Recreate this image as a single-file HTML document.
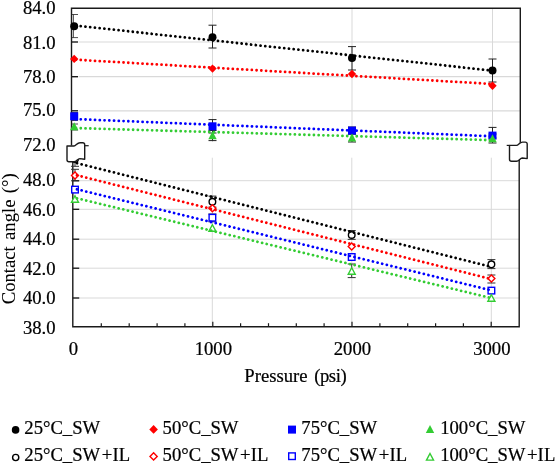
<!DOCTYPE html>
<html><head><meta charset="utf-8"><style>
html,body{margin:0;padding:0;background:#fff;}
body{width:555px;height:466px;overflow:hidden;}
svg{display:block;filter:blur(0.35px);}
text{font-family:"Liberation Serif", serif;font-size:18.67px;fill:#000;stroke:#000;stroke-width:0.22px;}
</style></head><body>
<svg width="555" height="466" viewBox="0 0 555 466">
<rect width="555" height="466" fill="#fff"/>
<line x1="78.5" y1="42.0" x2="520.3" y2="42.0" stroke="#d9d9d9" stroke-width="1.2"/>
<line x1="78.5" y1="76.7" x2="520.3" y2="76.7" stroke="#d9d9d9" stroke-width="1.2"/>
<line x1="78.5" y1="110.8" x2="520.3" y2="110.8" stroke="#d9d9d9" stroke-width="1.2"/>
<line x1="212.5" y1="8.3" x2="212.5" y2="142" stroke="#d9d9d9" stroke-width="1"/>
<line x1="352.0" y1="8.3" x2="352.0" y2="142" stroke="#d9d9d9" stroke-width="1"/>
<line x1="492.5" y1="8.3" x2="492.5" y2="142" stroke="#d9d9d9" stroke-width="1"/>
<line x1="79.8" y1="180.7" x2="519.2" y2="180.7" stroke="#d9d9d9" stroke-width="1"/>
<line x1="79.8" y1="209.3" x2="519.2" y2="209.3" stroke="#d9d9d9" stroke-width="1"/>
<line x1="79.8" y1="239.2" x2="519.2" y2="239.2" stroke="#d9d9d9" stroke-width="1"/>
<line x1="79.8" y1="268.2" x2="519.2" y2="268.2" stroke="#d9d9d9" stroke-width="1"/>
<line x1="79.8" y1="298.0" x2="519.2" y2="298.0" stroke="#d9d9d9" stroke-width="1"/>
<line x1="212.3" y1="157.7" x2="212.3" y2="326.7" stroke="#d9d9d9" stroke-width="1"/>
<line x1="351.8" y1="157.7" x2="351.8" y2="326.7" stroke="#d9d9d9" stroke-width="1"/>
<line x1="491.3" y1="157.7" x2="491.3" y2="326.7" stroke="#d9d9d9" stroke-width="1"/>
<path d="M71.5,145.5 V8.3 H520.3 V143" fill="none" stroke="#1a1a1a" stroke-width="1.4"/>
<path d="M72.8,157.7 V326.7 H519.2 V157.7" fill="none" stroke="#1a1a1a" stroke-width="1.4"/>
<line x1="71.5" y1="42.0" x2="78.0" y2="42.0" stroke="#1a1a1a" stroke-width="1.4"/>
<line x1="71.5" y1="76.7" x2="78.0" y2="76.7" stroke="#1a1a1a" stroke-width="1.4"/>
<line x1="71.5" y1="110.8" x2="78.0" y2="110.8" stroke="#1a1a1a" stroke-width="1.4"/>
<line x1="72.8" y1="180.7" x2="79.3" y2="180.7" stroke="#1a1a1a" stroke-width="1.4"/>
<line x1="72.8" y1="209.3" x2="79.3" y2="209.3" stroke="#1a1a1a" stroke-width="1.4"/>
<line x1="72.8" y1="239.2" x2="79.3" y2="239.2" stroke="#1a1a1a" stroke-width="1.4"/>
<line x1="72.8" y1="268.2" x2="79.3" y2="268.2" stroke="#1a1a1a" stroke-width="1.4"/>
<line x1="72.8" y1="298.0" x2="79.3" y2="298.0" stroke="#1a1a1a" stroke-width="1.4"/>
<line x1="101.3" y1="326.7" x2="101.3" y2="323.2" stroke="#1a1a1a" stroke-width="1.2"/>
<line x1="129.2" y1="326.7" x2="129.2" y2="323.2" stroke="#1a1a1a" stroke-width="1.2"/>
<line x1="157.1" y1="326.7" x2="157.1" y2="323.2" stroke="#1a1a1a" stroke-width="1.2"/>
<line x1="184.9" y1="326.7" x2="184.9" y2="323.2" stroke="#1a1a1a" stroke-width="1.2"/>
<line x1="212.8" y1="326.7" x2="212.8" y2="321.7" stroke="#1a1a1a" stroke-width="1.2"/>
<line x1="240.6" y1="326.7" x2="240.6" y2="323.2" stroke="#1a1a1a" stroke-width="1.2"/>
<line x1="268.5" y1="326.7" x2="268.5" y2="323.2" stroke="#1a1a1a" stroke-width="1.2"/>
<line x1="296.3" y1="326.7" x2="296.3" y2="323.2" stroke="#1a1a1a" stroke-width="1.2"/>
<line x1="324.1" y1="326.7" x2="324.1" y2="323.2" stroke="#1a1a1a" stroke-width="1.2"/>
<line x1="352.0" y1="326.7" x2="352.0" y2="321.7" stroke="#1a1a1a" stroke-width="1.2"/>
<line x1="379.9" y1="326.7" x2="379.9" y2="323.2" stroke="#1a1a1a" stroke-width="1.2"/>
<line x1="407.7" y1="326.7" x2="407.7" y2="323.2" stroke="#1a1a1a" stroke-width="1.2"/>
<line x1="435.6" y1="326.7" x2="435.6" y2="323.2" stroke="#1a1a1a" stroke-width="1.2"/>
<line x1="463.4" y1="326.7" x2="463.4" y2="323.2" stroke="#1a1a1a" stroke-width="1.2"/>
<line x1="491.2" y1="326.7" x2="491.2" y2="321.7" stroke="#1a1a1a" stroke-width="1.2"/>
<path d="M73.4,14.5 V37.6 M71.5,14.5 H78 M71.5,37.6 H78" stroke="#222" stroke-width="1.0" fill="none" opacity="0.8"/>
<path d="M212.5,25.2 V48.0 M208.5,25.2 H216.5 M208.5,48.0 H216.5" stroke="#222" stroke-width="1.0" fill="none"/>
<path d="M352.0,46.6 V70.0 M348.0,46.6 H356.0 M348.0,70.0 H356.0" stroke="#222" stroke-width="1.0" fill="none"/>
<path d="M492.5,59.0 V82.0 M488.5,59.0 H496.5 M488.5,82.0 H496.5" stroke="#222" stroke-width="1.0" fill="none"/>
<path d="M73.4,112.5 V120.5 M71.5,112.5 H78 M71.5,120.5 H78" stroke="#222" stroke-width="1.0" fill="none" opacity="0.8"/>
<path d="M212.5,119.6 V133.0 M208.5,119.6 H216.5 M208.5,133.0 H216.5" stroke="#222" stroke-width="1.0" fill="none"/>
<path d="M352.0,127 V134 M348.0,127 H356.0 M348.0,134 H356.0" stroke="#222" stroke-width="1.0" fill="none"/>
<path d="M492.5,127.4 V143 M488.5,127.4 H496.5 M488.5,143 H496.5" stroke="#222" stroke-width="1.0" fill="none"/>
<path d="M73.4,124 V130 M71.5,124 H78 M71.5,130 H78" stroke="#222" stroke-width="1.0" fill="none" opacity="0.8"/>
<path d="M212.5,130.5 V140.6 M208.5,130.5 H216.5 M208.5,140.6 H216.5" stroke="#222" stroke-width="1.0" fill="none"/>
<path d="M352.0,134 V142 M348.0,134 H356.0 M348.0,142 H356.0" stroke="#222" stroke-width="1.0" fill="none"/>
<path d="M492.5,134 V138 M488.5,134 H496.5 M488.5,138 H496.5" stroke="#222" stroke-width="1.0" fill="none"/>
<circle cx="74.2" cy="26.3" r="4" fill="#000000"/>
<circle cx="212.5" cy="37.2" r="4" fill="#000000"/>
<circle cx="352.0" cy="58.0" r="4" fill="#000000"/>
<circle cx="492.5" cy="70.6" r="4" fill="#000000"/>
<path d="M74.2,54.699999999999996 L78.4,58.9 L74.2,63.1 L70.0,58.9 Z" fill="#FF0000"/>
<path d="M212.5,64.39999999999999 L216.7,68.6 L212.5,72.8 L208.3,68.6 Z" fill="#FF0000"/>
<path d="M352.0,69.8 L356.2,74.0 L352.0,78.2 L347.8,74.0 Z" fill="#FF0000"/>
<path d="M492.5,81.5 L496.7,85.7 L492.5,89.9 L488.3,85.7 Z" fill="#FF0000"/>
<rect x="70.2" y="112.3" width="8" height="8" fill="#0000FF"/>
<rect x="208.5" y="122.3" width="8" height="8" fill="#0000FF"/>
<rect x="348.0" y="126.6" width="8" height="8" fill="#0000FF"/>
<rect x="488.5" y="131.6" width="8" height="8" fill="#0000FF"/>
<path d="M74.2,122.31 L78.4,130.29 L70.0,130.29 Z" fill="#33CC33"/>
<path d="M212.5,131.31 L216.7,139.29000000000002 L208.3,139.29000000000002 Z" fill="#33CC33"/>
<path d="M352.0,133.51 L356.2,141.49 L347.8,141.49 Z" fill="#33CC33"/>
<path d="M492.5,134.31 L496.7,142.29000000000002 L488.3,142.29000000000002 Z" fill="#33CC33"/>
<path d="M75.0,154 V166.3 M71.0,154 H79.0 M71.0,166.3 H79.0" stroke="#333" stroke-width="1.0" fill="none"/>
<path d="M212.4,196.1 V207.1 M208.4,196.1 H216.4 M208.4,207.1 H216.4" stroke="#333" stroke-width="1.0" fill="none"/>
<path d="M351.7,230.5 V239.4 M347.7,230.5 H355.7 M347.7,239.4 H355.7" stroke="#333" stroke-width="1.0" fill="none"/>
<path d="M491.4,259.6 V268.6 M487.4,259.6 H495.4 M487.4,268.6 H495.4" stroke="#333" stroke-width="1.0" fill="none"/>
<path d="M75.0,169.3 V180.8 M71.0,169.3 H79.0 M71.0,180.8 H79.0" stroke="#333" stroke-width="1.0" fill="none"/>
<path d="M491.4,275 V283 M487.4,275 H495.4 M487.4,283 H495.4" stroke="#333" stroke-width="1.0" fill="none"/>
<path d="M212.4,214 V221.8 M208.4,214 H216.4 M208.4,221.8 H216.4" stroke="#333" stroke-width="1.0" fill="none"/>
<path d="M351.7,264 V277.6 M347.7,264 H355.7 M347.7,277.6 H355.7" stroke="#333" stroke-width="1.0" fill="none"/>
<circle cx="75.0" cy="159.0" r="3.3" fill="#fff" stroke="#000000" stroke-width="1.4"/>
<circle cx="212.4" cy="201.8" r="3.3" fill="#fff" stroke="#000000" stroke-width="1.4"/>
<circle cx="351.7" cy="235.0" r="3.3" fill="#fff" stroke="#000000" stroke-width="1.4"/>
<circle cx="491.4" cy="264.3" r="3.3" fill="#fff" stroke="#000000" stroke-width="1.4"/>
<path d="M75.0,171.9 L78.5,175.4 L75.0,178.9 L71.5,175.4 Z" fill="#fff" stroke="#FF0000" stroke-width="1.4"/>
<path d="M212.4,204.8 L215.9,208.3 L212.4,211.8 L208.9,208.3 Z" fill="#fff" stroke="#FF0000" stroke-width="1.4"/>
<path d="M351.7,242.9 L355.2,246.4 L351.7,249.9 L348.2,246.4 Z" fill="#fff" stroke="#FF0000" stroke-width="1.4"/>
<path d="M491.4,275.1 L494.9,278.6 L491.4,282.1 L487.9,278.6 Z" fill="#fff" stroke="#FF0000" stroke-width="1.4"/>
<rect x="71.7" y="186.29999999999998" width="6.6" height="6.6" fill="#fff" stroke="#0000FF" stroke-width="1.4"/>
<rect x="209.1" y="214.39999999999998" width="6.6" height="6.6" fill="#fff" stroke="#0000FF" stroke-width="1.4"/>
<rect x="348.4" y="253.7" width="6.6" height="6.6" fill="#fff" stroke="#0000FF" stroke-width="1.4"/>
<rect x="488.09999999999997" y="287.3" width="6.6" height="6.6" fill="#fff" stroke="#0000FF" stroke-width="1.4"/>
<path d="M75.0,195.71 L78.5,202.29 L71.5,202.29 Z" fill="#fff" stroke="#33CC33" stroke-width="1.4"/>
<path d="M212.4,224.71 L215.9,231.29 L208.9,231.29 Z" fill="#fff" stroke="#33CC33" stroke-width="1.4"/>
<path d="M351.7,267.71 L355.2,274.29 L348.2,274.29 Z" fill="#fff" stroke="#33CC33" stroke-width="1.4"/>
<path d="M491.4,294.71 L494.9,301.29 L487.9,301.29 Z" fill="#fff" stroke="#33CC33" stroke-width="1.4"/>
<line x1="76" y1="25.6" x2="492.5" y2="70.6" stroke="#000000" stroke-width="2.8" stroke-linecap="round" stroke-dasharray="0.01 4.75"/>
<line x1="76" y1="59.7" x2="492.5" y2="84.0" stroke="#FF0000" stroke-width="2.8" stroke-linecap="round" stroke-dasharray="0.01 4.75"/>
<line x1="76" y1="119.1" x2="492.5" y2="136.3" stroke="#0000FF" stroke-width="2.8" stroke-linecap="round" stroke-dasharray="0.01 4.75"/>
<line x1="76" y1="128.1" x2="492.5" y2="140.2" stroke="#33CC33" stroke-width="2.8" stroke-linecap="round" stroke-dasharray="0.01 4.75"/>
<line x1="77" y1="163.2" x2="491.4" y2="266.9" stroke="#000000" stroke-width="2.8" stroke-linecap="round" stroke-dasharray="0.01 4.75"/>
<line x1="77" y1="175.3" x2="491.4" y2="279.1" stroke="#FF0000" stroke-width="2.8" stroke-linecap="round" stroke-dasharray="0.01 4.75"/>
<line x1="77" y1="189.3" x2="491.4" y2="290.4" stroke="#0000FF" stroke-width="2.8" stroke-linecap="round" stroke-dasharray="0.01 4.75"/>
<line x1="77" y1="198.3" x2="491.4" y2="298.1" stroke="#33CC33" stroke-width="2.8" stroke-linecap="round" stroke-dasharray="0.01 4.75"/>
<path d="M67.0,146.0 H74.0 C76.0,146.0 77.0,142.7 80.0,142.7 H82.7 Q84.7,142.7 84.7,144.7 V159.2 L79.8,158.6 C77.5,158.6 76.8,161.8 74.0,161.8 H69.0 Q67.0,161.8 67.0,159.8 Z" fill="#fff" stroke="#1a1a1a" stroke-width="1.4" stroke-linejoin="round"/>
<line x1="84.7" y1="145.7" x2="88.7" y2="145.7" stroke="#1a1a1a" stroke-width="1.2"/>
<path d="M509.5,145.4 H516.5 C518.5,145.4 519.5,142.1 522.5,142.1 H525.2 Q527.2,142.1 527.2,144.1 V158.6 L522.3,158.0 C520.0,158.0 519.3,161.20000000000002 516.5,161.20000000000002 H511.5 Q509.5,161.20000000000002 509.5,159.20000000000002 Z" fill="#fff" stroke="#1a1a1a" stroke-width="1.4" stroke-linejoin="round"/>
<line x1="506.7" y1="145.4" x2="509.5" y2="145.4" stroke="#1a1a1a" stroke-width="1.2"/>
<text x="55.6" y="14.2" text-anchor="end" >84.0</text>
<text x="55.6" y="49.0" text-anchor="end" >81.0</text>
<text x="55.6" y="82.6" text-anchor="end" >78.0</text>
<text x="55.6" y="115.8" text-anchor="end" >75.0</text>
<text x="55.6" y="150.9" text-anchor="end" >72.0</text>
<text x="55.6" y="185.7" text-anchor="end" >48.0</text>
<text x="55.6" y="215.7" text-anchor="end" >46.0</text>
<text x="55.6" y="244.7" text-anchor="end" >44.0</text>
<text x="55.6" y="274.6" text-anchor="end" >42.0</text>
<text x="55.6" y="303.9" text-anchor="end" >40.0</text>
<text x="55.6" y="333.6" text-anchor="end" >38.0</text>
<text x="73.4" y="354.6" text-anchor="middle" >0</text>
<text x="213.3" y="354.6" text-anchor="middle" >1000</text>
<text x="352.4" y="354.6" text-anchor="middle" >2000</text>
<text x="491.8" y="354.6" text-anchor="middle" >3000</text>
<text x="244.3" y="382.3">Pressure<tspan dx="2.5" letter-spacing="-0.45"> (psi)</tspan></text>
<text transform="translate(14.8,238.8) rotate(-90)" text-anchor="middle" word-spacing="1.7" style="stroke-width:0.05px">Contact angle (°)</text>
<text x="24.3" y="434.4" text-anchor="start" >25°C_SW</text>
<text x="24.3" y="461.0" text-anchor="start" >25°C_SW<tspan dx="1.5" letter-spacing="0.2">+IL</tspan></text>
<text x="162.6" y="434.4" text-anchor="start" >50°C_SW</text>
<text x="162.6" y="461.0" text-anchor="start" >50°C_SW<tspan dx="1.5" letter-spacing="0.2">+IL</tspan></text>
<text x="301.3" y="434.4" text-anchor="start" >75°C_SW</text>
<text x="301.3" y="461.0" text-anchor="start" >75°C_SW<tspan dx="1.5" letter-spacing="0.2">+IL</tspan></text>
<text x="440.2" y="434.4" text-anchor="start" >100°C_SW</text>
<text x="440.2" y="461.0" text-anchor="start" >100°C_SW<tspan dx="1.5" letter-spacing="0.2">+IL</tspan></text>
<circle cx="15.6" cy="429.9" r="3.8" fill="#000000"/>
<circle cx="15.7" cy="457.5" r="3.0999999999999996" fill="#fff" stroke="#000000" stroke-width="1.4"/>
<path d="M153.6,425.09999999999997 L157.9,429.4 L153.6,433.7 L149.29999999999998,429.4 Z" fill="#FF0000"/>
<path d="M153.6,452.79999999999995 L157.2,456.4 L153.6,460.0 L150.0,456.4 Z" fill="#fff" stroke="#FF0000" stroke-width="1.4"/>
<rect x="288.0" y="425.6" width="8" height="8" fill="#0000FF"/>
<rect x="288.7" y="452.9" width="6.6" height="6.6" fill="#fff" stroke="#0000FF" stroke-width="1.4"/>
<path d="M430.0,425.01 L434.2,432.99 L425.8,432.99 Z" fill="#33CC33"/>
<path d="M430.0,453.51 L433.5,460.09000000000003 L426.5,460.09000000000003 Z" fill="#fff" stroke="#33CC33" stroke-width="1.4"/>
</svg>
</body></html>
